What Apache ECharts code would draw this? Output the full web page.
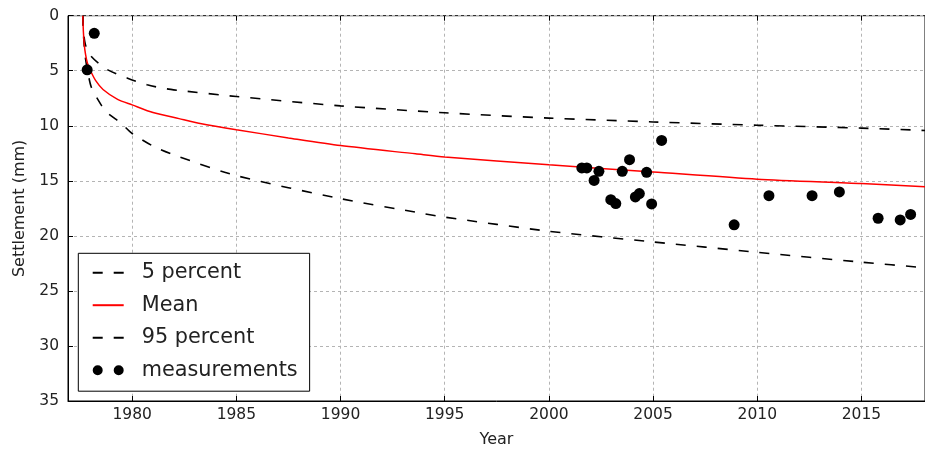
<!DOCTYPE html>
<html>
<head>
<meta charset="utf-8">
<script src="https://cdn.jsdelivr.net/npm/echarts@6/dist/echarts.min.js"></script>
<style>
  html, body { margin: 0; padding: 0; background: #fff; }
  #chart { width: 925px; height: 453px; }
</style>
</head>
<body>
<div id="chart"></div>
<script>
// Axis ticks
const yearTicks = [1980, 1985, 1990, 1995, 2000, 2005, 2010, 2015];
const settlementTicks = [0, 5, 10, 15, 20, 25, 30, 35];

// Predicted mean settlement (mm) by year
const meanYears  = [1977.63, 1977.66, 1977.70, 1977.76, 1977.85, 1978.0, 1978.25, 1978.6, 1979.3, 1980.0, 1981.0, 1982.25, 1983.2, 1985.0, 1987.5, 1990.0, 1993.6, 1995.0, 2000.0, 2005.0, 2010.0, 2015.0, 2018.1];
const meanValues = [0.0,     1.5,     2.6,     3.5,     4.3,     5.0,    5.9,     6.7,    7.6,    8.1,    8.8,    9.35,    9.76,   10.36,  11.1,   11.8,   12.55,  12.84,  13.55,  14.2,   14.85,  15.25,  15.55];

// 5 percent bound (mm)
const p5Years  = [1977.63, 1977.66, 1977.72, 1977.80, 1977.92, 1978.04, 1978.4, 1978.83, 1979.78, 1980.72, 1981.67, 1982.3, 1985.0, 1990.0, 1995.0, 2000.0, 2005.0, 2010.0, 2015.0, 2018.1];
const p5Values = [0.0,     1.3,     2.3,     2.9,     3.35,    3.7,     4.35,   4.92,    5.68,    6.28,    6.65,    6.8,    7.34,   8.19,   8.82,   9.30,   9.65,   9.95,   10.21,  10.43];

// 95 percent bound (mm)
const p95Years  = [1977.63, 1977.66, 1977.70, 1977.76, 1977.85, 1978.04, 1978.51, 1978.83, 1979.46, 1980.0, 1981.04, 1982.2, 1985.0, 1990.0, 1994.0, 1995.0, 2000.0, 2005.0, 2010.0, 2015.0, 2018.1];
const p95Values = [0.0,     1.6,     2.8,     3.9,     4.9,     6.5,     8.1,     8.85,    9.76,    10.7,   11.88,   12.78,  14.53,  16.62,  17.98,  18.3,   19.58,  20.55,  21.49,  22.39,  22.9];

// Measured settlement (mm)
const measYears  = [1977.84, 1978.18, 2001.58, 2001.82, 2002.17, 2002.40, 2002.97, 2003.21, 2003.52, 2003.87, 2004.15, 2004.34, 2004.69, 2004.93, 2005.41, 2008.89, 2010.56, 2012.63, 2013.94, 2015.80, 2016.86, 2017.36];
const measValues = [4.92,    1.6,     13.83,   13.83,   14.96,   14.14,   16.71,   17.07,   14.14,   13.08,   16.46,   16.16,   14.23,   17.10,   11.33,   19.0,    16.35,   16.35,   16.01,   18.40,   18.55,   18.05];

const pairs = (xs, ys) => xs.map((x, i) => [x, ys[i]]);

const FONT = 'DejaVu Sans';
const TXT = '#222';
const gridLine = { show: true, lineStyle: { color: '#b4b4b4', width: 1, type: [3, 3] } };
// line-only legend entries: hide the marker drawn in the middle of the sample
const noMarker = { opacity: 0 };

const chart = echarts.init(document.getElementById('chart'), null, { renderer: 'canvas' });

chart.setOption({
  animation: false,
  backgroundColor: '#fff',
  textStyle: { fontFamily: FONT },
  grid: {
    left: 68, top: 15.7, right: -11, bottom: 51.3,
    show: true, borderColor: '#000', borderWidth: 1, backgroundColor: 'transparent'
  },
  legend: {
    orient: 'vertical',
    left: 78.3, top: 253.3,
    padding: [7.4, 12, 9, 13.4],
    backgroundColor: '#fff',
    borderColor: '#000',
    borderWidth: 1,
    borderRadius: 0,
    itemWidth: 31,
    itemHeight: 10,
    itemGap: 8.5,
    textStyle: { fontFamily: FONT, fontSize: 20.8, color: TXT, lineHeight: 24, padding: [0, 0, 0, 13] },
    data: [
      { name: '5 percent', itemStyle: noMarker },
      { name: 'Mean', itemStyle: noMarker },
      { name: '95 percent', itemStyle: noMarker },
      { name: 'measurements', icon: 'path://M0,5a5,5 0 1,0 10,0a5,5 0 1,0 -10,0zM21,5a5,5 0 1,0 10,0a5,5 0 1,0 -10,0z' }
    ]
  },
  xAxis: [
    {
      type: 'value',
      min: 1976.92, max: 2018.05,
      name: 'Year',
      nameLocation: 'middle',
      nameGap: 31,
      nameTextStyle: { fontFamily: FONT, fontSize: 16, color: TXT },
      axisLine: { show: true, onZero: false, lineStyle: { color: '#000', width: 1 } },
      axisTick: { show: true, inside: true, length: 5, customValues: yearTicks, lineStyle: { color: '#000' } },
      axisLabel: {
        show: true, customValues: yearTicks, margin: 6, fontFamily: FONT, fontSize: 15.5, color: TXT,
        formatter: v => String(v)
      },
      splitLine: gridLine
    },
    {
      type: 'value',
      position: 'top',
      min: 1976.92, max: 2018.05,
      axisLine: { show: false },
      axisTick: { show: true, inside: true, length: 5, customValues: yearTicks, lineStyle: { color: '#000' } },
      axisLabel: { show: false, customValues: yearTicks },
      splitLine: { show: false }
    }
  ],
  yAxis: {
    type: 'value',
    inverse: true,
    min: 0, max: 35, interval: 5,
    name: 'Settlement (mm)',
    nameLocation: 'middle',
    nameGap: 40,
    nameTextStyle: { fontFamily: FONT, fontSize: 16, color: TXT },
    axisLine: { show: true, onZero: false, lineStyle: { color: '#000', width: 1 } },
    axisTick: { show: true, inside: true, length: 5, lineStyle: { color: '#000' } },
    axisLabel: {
      margin: 9, fontFamily: FONT, fontSize: 15.5, color: TXT,
      formatter: v => settlementTicks.includes(v) ? String(v) : ''
    },
    splitLine: gridLine
  },
  series: [
    {
      name: '5 percent', type: 'line', xAxisIndex: 0,
      data: pairs(p5Years, p5Values),
      showSymbol: false, symbol: 'none', smooth: 0.25,
      lineStyle: { color: '#000', width: 1.6, type: [10, 11] },
      itemStyle: { color: '#000' },
      z: 3
    },
    {
      name: 'Mean', type: 'line', xAxisIndex: 0,
      data: pairs(meanYears, meanValues),
      showSymbol: false, symbol: 'none', smooth: 0.25,
      lineStyle: { color: '#ff0000', width: 1.5 },
      itemStyle: { color: '#ff0000' },
      z: 4
    },
    {
      name: '95 percent', type: 'line', xAxisIndex: 0,
      data: pairs(p95Years, p95Values),
      showSymbol: false, symbol: 'none', smooth: 0.25,
      lineStyle: { color: '#000', width: 1.6, type: [10, 11] },
      itemStyle: { color: '#000' },
      z: 3
    },
    {
      name: 'measurements', type: 'scatter', xAxisIndex: 0,
      data: pairs(measYears, measValues),
      symbol: 'circle', symbolSize: 11,
      itemStyle: { color: '#000', opacity: 1 },
      z: 5
    }
  ]
});
</script>
</body>
</html>
